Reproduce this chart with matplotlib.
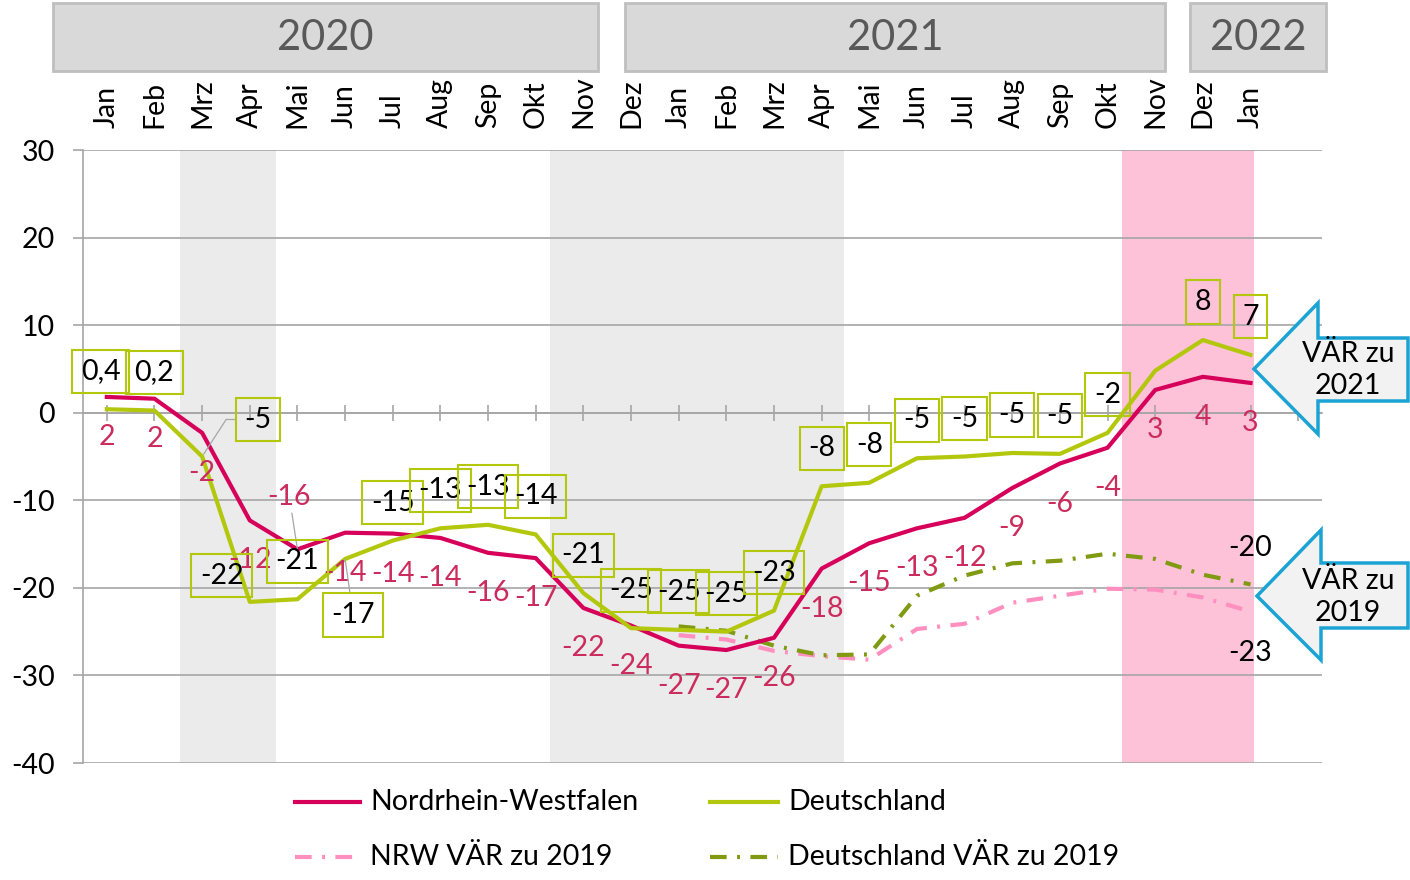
import matplotlib.pyplot as plt
import numpy as np
from matplotlib.lines import Line2D
from matplotlib.patches import Rectangle, Polygon

plt.rcParams['font.family'] = ['Lato', 'DejaVu Sans']
plt.rcParams['axes.unicode_minus'] = False

months = ['Jan', 'Feb', 'Mrz', 'Apr', 'Mai', 'Jun', 'Jul', 'Aug', 'Sep', 'Okt', 'Nov', 'Dez',
          'Jan', 'Feb', 'Mrz', 'Apr', 'Mai', 'Jun', 'Jul', 'Aug', 'Sep', 'Okt', 'Nov', 'Dez', 'Jan']
years = ['2020', '2021', '2022']

nrw = [1.8, 1.6, -2.3, -12.3, -15.6, -13.7, -13.8, -14.3, -16.0, -16.6, -22.3, -24.3,
       -26.6, -27.1, -25.7, -17.8, -14.9, -13.2, -12.0, -8.6, -5.8, -4.0, 2.6, 4.1, 3.4]
nrw_labels = ['2', '2', '-2', '-12', '-16', '-14', '-14', '-14', '-16', '-17', '-22', '-24',
              '-27', '-27', '-26', '-18', '-15', '-13', '-12', '-9', '-6', '-4', '3', '4', '3']
de = [0.4, 0.25, -5.0, -21.6, -21.3, -16.7, -14.6, -13.2, -12.8, -13.9, -20.6, -24.6,
      -24.8, -25.0, -22.6, -8.4, -8.0, -5.2, -5.0, -4.6, -4.7, -2.3, 4.8, 8.3, 6.6]
de_labels = ['0,4', '0,2', '-5', '-22', '-21', '-17', '-15', '-13', '-13', '-14', '-21', '-25',
             '-25', '-25', '-23', '-8', '-8', '-5', '-5', '-5', '-5', '-2', '', '8', '7']
nan = np.nan
nrw_2019 = [nan] * 12 + [-25.4, -25.9, -27.2, -27.8, -28.2, -24.7, -24.1, -21.7, -20.9,
                         -20.1, -20.2, -21.1, -22.7]
de_2019 = [nan] * 12 + [-24.4, -24.9, -26.6, -27.7, -27.6, -20.9, -18.6, -17.2, -16.9,
                        -16.1, -16.7, -18.5, -19.6]

C_NRW = '#d6005a'
C_NRW_TXT = '#cc2b5e'
C_DE = '#b3c80d'
C_NRW19 = '#ff8fbf'
C_DE19 = '#809a12'
C_GRID = '#a6a6a6'
FS = 20.5

W, H = 1410, 880


def fx(x):
    return x / W


def fy(y):
    return 1 - y / H


fig = plt.figure(figsize=(W / 100, H / 100), dpi=100)
ax = fig.add_axes([fx(83), fy(763), (1322 - 83) / W, (763 - 150) / H])

x = np.arange(len(months))

# shaded periods
ax.axvspan(1.54, 3.55, color='#ebebeb', zorder=0, lw=0)
ax.axvspan(9.3, 15.47, color='#ebebeb', zorder=0, lw=0)
ax.axvspan(21.3, 24.07, color='#fdc1d8', zorder=0, lw=0)

ax.plot(x, nrw_2019, color=C_NRW19, lw=3, dashes=(4, 2.5, 0.7, 2.5), zorder=2.5)
ax.plot(x, de_2019, color=C_DE19, lw=3, dashes=(4, 2.5, 0.7, 2.5), zorder=2.6)
ax.plot(x, nrw, color=C_NRW, lw=3, zorder=3)
ax.plot(x, de, color=C_DE, lw=3, zorder=3.1)

ax.set_xlim(-0.5, 25.5)
ax.set_ylim(-40, 30)
ax.set_yticks(np.arange(-40, 31, 10))
ax.set_axisbelow(True)
ax.yaxis.grid(True, color=C_GRID, lw=1.2)

for s in ['top', 'right']:
    ax.spines[s].set_visible(False)
ax.spines['left'].set_color(C_GRID)
ax.spines['left'].set_linewidth(1.2)
ax.spines['bottom'].set_position(('data', 0))
ax.spines['bottom'].set_color(C_GRID)
ax.spines['bottom'].set_linewidth(1.2)

ax.tick_params(axis='y', length=7, color=C_GRID, width=1.2, labelsize=FS, pad=13)
ax.set_xticks(np.arange(26))
ax.set_xticklabels(months + [''])
ax.tick_params(axis='x', bottom=True, top=False, labelbottom=False, labeltop=True,
               direction='inout', length=11, color=C_GRID, width=1.2,
               labelrotation=90, labelsize=FS, pad=10)

# NRW labels
nrw_off = {4: (-8, 52)}
for i, lab in enumerate(nrw_labels):
    off = nrw_off.get(i, (0, -40))
    arrow = None
    if i == 4:
        arrow = dict(arrowstyle='-', color=C_GRID, lw=0.9, shrinkA=0, shrinkB=0)
    ax.annotate(lab, (x[i], nrw[i]), xytext=off, textcoords='offset pixels',
                ha='center', va='center', color=C_NRW_TXT, fontsize=FS,
                arrowprops=arrow, zorder=4)

# Deutschland labels
de_off = {0: (-6, 38), 2: (56, 37), 3: (-28, 26), 5: (8, -56)}
for i, lab in enumerate(de_labels):
    if not lab:
        continue
    off = de_off.get(i, (0, 38))
    arrow = None
    if i == 2:
        arrow = dict(arrowstyle='-', color=C_GRID, lw=0.9, shrinkA=0, shrinkB=2,
                     connectionstyle='angle,angleA=0,angleB=57,rad=0')
    elif i == 5:
        arrow = dict(arrowstyle='-', color=C_GRID, lw=0.9, shrinkA=0, shrinkB=0)
    ax.annotate(lab, (x[i], de[i]), xytext=off, textcoords='offset pixels',
                ha='center', va='center', color='black', fontsize=FS,
                bbox=dict(boxstyle='square,pad=0.3', fc='none', ec=C_DE, lw=1.5),
                arrowprops=arrow, zorder=4)

# VÄR end labels
ax.annotate('-20', (x[-1], de_2019[-1]), xytext=(0, 36), textcoords='offset pixels',
            ha='center', va='center', fontsize=FS, color='black')
ax.annotate('-23', (x[-1], nrw_2019[-1]), xytext=(0, -41), textcoords='offset pixels',
            ha='center', va='center', fontsize=FS, color='black')

# year header boxes
year_boxes = [(53, 598), (625, 1165), (1190, 1326)]
for (x0, x1), yr in zip(year_boxes, years):
    fig.add_artist(Rectangle((fx(x0), fy(71)), (x1 - x0) / W, (71 - 3) / H,
                             transform=fig.transFigure, fc='#d9d9d9', ec='#bfbfbf', lw=2))
    fig.text(fx((x0 + x1) / 2), fy(38), yr, ha='center', va='center',
             fontsize=30, color='#595959')


# callout arrows
def callout(tip_y, top, btop, bbot, bot, tip_x, head_x, text, ty):
    pts = [(tip_x, tip_y), (head_x, top), (head_x, btop), (1408, btop), (1408, bbot),
           (head_x, bbot), (head_x, bot)]
    fig.add_artist(Polygon([(fx(a), fy(b)) for a, b in pts], closed=True,
                           transform=fig.transFigure, fc='#f2f2f2', ec='#1aa3d3', lw=2.5))
    fig.text(fx(1348), fy(ty), text, ha='center', va='center', fontsize=FS,
             linespacing=1.3)


callout(369, 303, 338, 401, 434, 1254, 1318, 'VÄR zu\n2021', 370)
callout(596, 530, 563, 628, 660, 1257, 1321, 'VÄR zu\n2019', 597)

# legend
legend_items = [
    (295, 360, 802, C_NRW, None, 'Nordrhein-Westfalen'),
    (710, 778, 802, C_DE, None, 'Deutschland'),
    (295, 360, 857, C_NRW19, (4, 2.5, 0.7, 2.5), 'NRW VÄR zu 2019'),
    (710, 778, 857, C_DE19, (4, 2.5, 0.7, 2.5), 'Deutschland VÄR zu 2019'),
]
for x0, x1, yy, col, dash, lab in legend_items:
    ln = Line2D([fx(x0), fx(x1)], [fy(yy), fy(yy)], transform=fig.transFigure,
                color=col, lw=3)
    if dash:
        ln.set_dashes(dash)
    fig.add_artist(ln)
    fig.text(fx(x1 + 10), fy(yy), lab, ha='left', va='center', fontsize=FS)

fig.savefig('out.png', dpi=100)
